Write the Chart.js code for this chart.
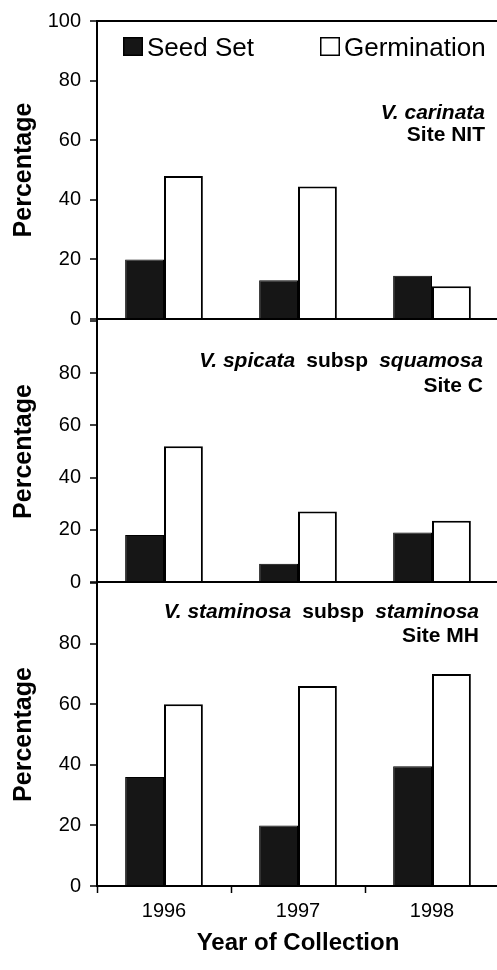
<!DOCTYPE html>
<html>
<head>
<meta charset="utf-8">
<script src="https://cdn.jsdelivr.net/npm/chart.js@4.4.1/dist/chart.umd.min.js"></script>
<style>
  body { margin: 0; background: #fff; }
  #wrap { position: relative; width: 497px; height: 970px; overflow: hidden; background: #fff; }
  .panel { position: absolute; left: 0; width: 499px; }
</style>
</head>
<body>
<div id="wrap">
  <div class="panel" style="top:0;height:345px"><canvas id="c1"></canvas></div>
  <div class="panel" style="top:300px;height:310px"><canvas id="c2"></canvas></div>
  <div class="panel" style="top:560px;height:410px"><canvas id="c3"></canvas></div>
</div>
<script>
var years = ["1996", "1997", "1998"];
var seriesNames = ["Seed Set", "Germination"];

// V. carinata, Site NIT
var seedNIT = [20, 13, 14.5];
var germNIT = [48, 44.5, 11];
// V. spicata subsp squamosa, Site C
var seedC = [18, 7, 19];
var germC = [52, 27, 23.5];
// V. staminosa subsp staminosa, Site MH
var seedMH = [36, 20, 39.5];
var germMH = [60, 66, 70];

var speciesNIT = [["V. carinata", true]];
var speciesC = [["V. spicata", true], ["subsp", false], ["squamosa", true]];
var speciesMH = [["V. staminosa", true], ["subsp", false], ["staminosa", true]];
var sites = ["Site NIT", "Site C", "Site MH"];

var yTitle = "Percentage";
var xTitle = "Year of Collection";

var family = "'Liberation Sans', Arial, Helvetica, sans-serif";
Chart.defaults.font.family = family;
Chart.defaults.color = '#000';

// species / site label, top right of each panel
var panelText = {
  id: 'panelText',
  afterDraw: function(chart, args, opts) {
    var ctx = chart.ctx, a = chart.chartArea;
    ctx.save();
    ctx.fillStyle = '#000';
    ctx.textBaseline = 'alphabetic';
    var fontOf = function(it) { return (it ? 'italic ' : '') + 'bold ' + opts.size + 'px ' + family; };
    var widths = opts.species.map(function(p) { ctx.font = fontOf(p[1]); return ctx.measureText(p[0]).width; });
    var total = widths.reduce(function(s, w) { return s + w; }, 0) + opts.gap * (widths.length - 1);
    var x = opts.right - total;
    ctx.textAlign = 'left';
    opts.species.forEach(function(p, i) {
      ctx.font = fontOf(p[1]);
      ctx.fillText(p[0], x, a.top + opts.line1);
      x += widths[i] + opts.gap;
    });
    ctx.font = fontOf(false);
    ctx.textAlign = 'right';
    ctx.fillText(opts.site, opts.right, a.top + opts.line2);
    ctx.restore();
  }
};

// legend drawn inside the top panel
var boxLegend = {
  id: 'boxLegend',
  afterDraw: function(chart, args, opts) {
    if (!opts.show) return;
    var ctx = chart.ctx, a = chart.chartArea;
    ctx.save();
    chart.data.datasets.forEach(function(ds, i) {
      var x = a.left + opts.xs[i];
      ctx.fillStyle = ds.backgroundColor;
      ctx.fillRect(x, a.top + opts.boxTop, 20, 19);
      ctx.strokeStyle = '#000';
      ctx.lineWidth = 1.5;
      ctx.strokeRect(x + 0.75, a.top + opts.boxTop + 0.75, 18.5, 17.5);
      ctx.fillStyle = '#000';
      ctx.font = '26px ' + family;
      ctx.textAlign = 'left';
      ctx.textBaseline = 'alphabetic';
      ctx.fillText(ds.label, x + 24, a.top + opts.baseline);
    });
    ctx.restore();
  }
};

function makePanel(id, seed, germ, cfg) {
  return new Chart(id, {
    type: 'bar',
    data: {
      labels: years,
      datasets: [
        { label: seriesNames[0], data: seed, backgroundColor: '#161616', borderColor: '#000', borderWidth: 1 },
        { label: seriesNames[1], data: germ, backgroundColor: '#fff', borderColor: '#000', borderWidth: 2 }
      ]
    },
    plugins: [panelText, boxLegend],
    options: {
      responsive: true,
      maintainAspectRatio: false,
      animation: false,
      devicePixelRatio: 1,
      layout: { padding: { top: cfg.padTop, left: 0, right: 0, bottom: 0 } },
      datasets: { bar: { categoryPercentage: 0.58, barPercentage: 1.0 } },
      scales: {
        x: {
          offset: true,
          grid: { display: true, drawOnChartArea: false, drawTicks: cfg.xLabels, tickLength: 7, tickColor: '#000', tickWidth: 1.5 },
          border: { display: true, color: '#000', width: 2 },
          ticks: { display: cfg.xLabels, padding: 6, font: { size: 20 } },
          title: { display: cfg.xLabels, text: xTitle, font: { size: 24, weight: 'bold', lineHeight: 1 }, padding: { top: 0, bottom: 15 } },
          afterFit: function(s) { s.height = cfg.xHeight; }
        },
        y: {
          min: 0,
          max: 100,
          ticks: {
            stepSize: 20,
            padding: 9,
            font: { size: 20 },
            callback: function(v) { return (v === 100 && !cfg.show100) ? '' : v; }
          },
          grid: {
            drawOnChartArea: true,
            tickLength: 7,
            tickColor: '#000',
            tickWidth: 1.5,
            lineWidth: 2,
            color: function(c) { return c.tick && c.tick.value === 100 && cfg.show100 ? '#000' : 'rgba(0,0,0,0)'; }
          },
          border: { display: true, color: '#000', width: 2 },
          title: { display: true, text: yTitle, font: { size: 25, weight: 'bold', lineHeight: 1 }, padding: { top: 12, bottom: 0 } },
          afterFit: function(s) { s.width = 97; }
        }
      },
      plugins: {
        legend: { display: false },
        tooltip: { enabled: false },
        panelText: cfg.text,
        boxLegend: cfg.legend
      }
    }
  });
}

makePanel('c1', seedNIT, germNIT, {
  padTop: 17, xHeight: 26, xLabels: false, show100: true,
  text: { species: speciesNIT, site: sites[0], size: 21, gap: 11, right: 485, line1: 98, line2: 120 },
  legend: { show: true, xs: [26, 223], boxTop: 16, baseline: 35 }
});
makePanel('c2', seedC, germC, {
  padTop: 19, xHeight: 28, xLabels: false, show100: false,
  text: { species: speciesC, site: sites[1], size: 21, gap: 11, right: 483, line1: 46, line2: 71 },
  legend: { show: false }
});
makePanel('c3', seedMH, germMH, {
  padTop: 23, xHeight: 84, xLabels: true, show100: false,
  text: { species: speciesMH, site: sites[2], size: 21, gap: 11, right: 479, line1: 35, line2: 59 },
  legend: { show: false }
});
</script>
</body>
</html>
